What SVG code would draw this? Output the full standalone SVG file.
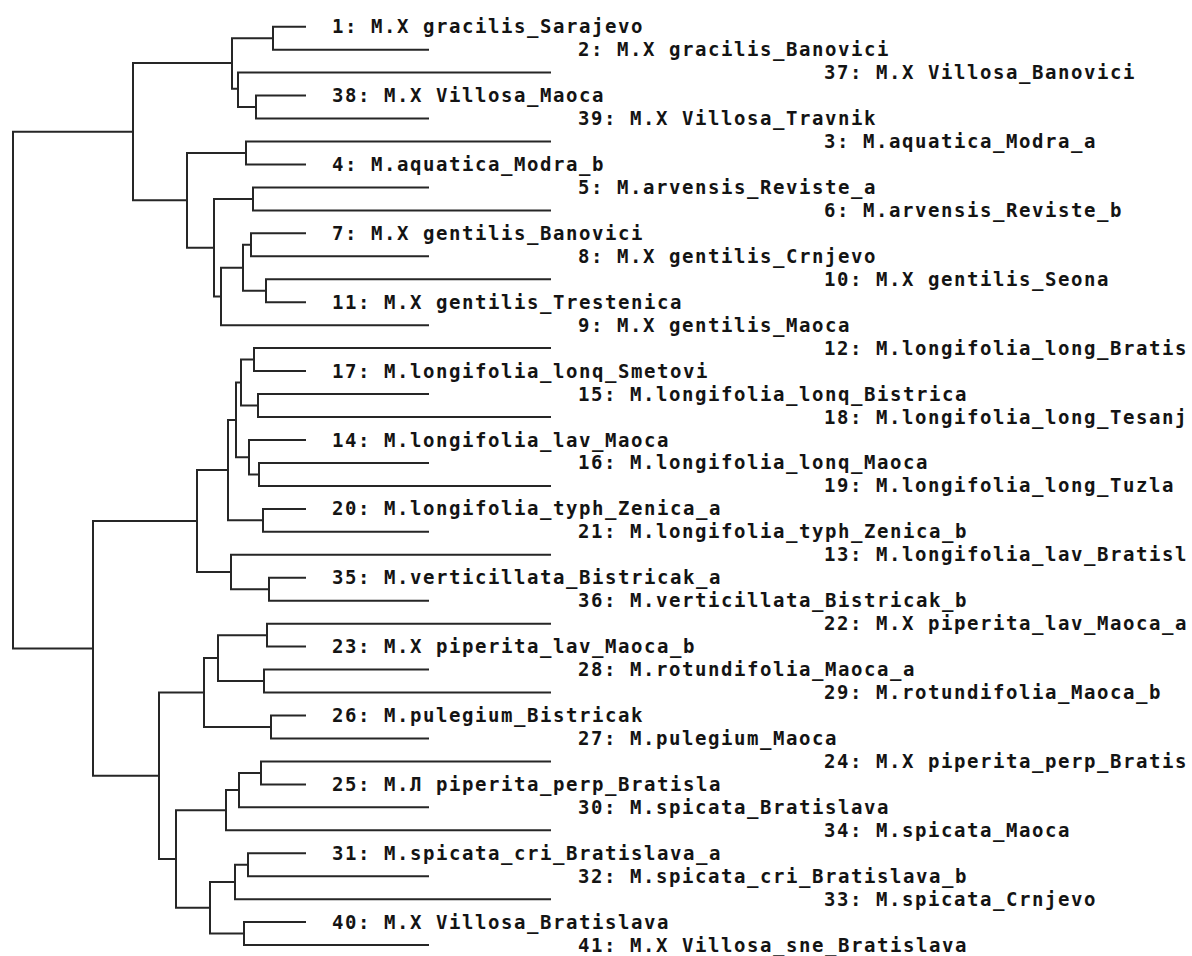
<svg xmlns="http://www.w3.org/2000/svg" width="1192" height="956" viewBox="0 0 1192 956">
<style>
.c path{fill:none;stroke:#262626;stroke-width:2;stroke-linecap:square}
.n text{font-family:"DejaVu Sans Mono","Liberation Mono",monospace;font-weight:bold;font-size:19px;letter-spacing:1.56px;fill:#141414}
</style>
<rect width="1192" height="956" fill="#ffffff"/>
<g id="connectors" class="c">
<path d="M305,26.7 H273 V49.7 H428"/>
<path d="M305,95.6 H256 V118.5 H428"/>
<path d="M550,72.6 H238 V107 H256"/>
<path d="M273,38.2 H232 V88.8 H238"/>
<path d="M550,141.5 H246 V164.5 H305"/>
<path d="M428,187.4 H253 V210.4 H550"/>
<path d="M305,233.3 H251 V256.3 H428"/>
<path d="M550,279.3 H266 V302.2 H305"/>
<path d="M251,244.8 H243 V290.8 H266"/>
<path d="M243,267.8 H221 V325.2 H428"/>
<path d="M253,198.9 H214 V296.5 H221"/>
<path d="M246,153 H187 V247.7 H214"/>
<path d="M232,63 H133 V200.3 H187"/>
<path d="M550,348.1 H254 V371.1 H305"/>
<path d="M428,394.1 H258 V417 H550"/>
<path d="M254,359.6 H241 V405.5 H258"/>
<path d="M428,462.9 H259 V485.9 H550"/>
<path d="M305,440 H249 V474.4 H259"/>
<path d="M241,382.6 H236 V457.2 H249"/>
<path d="M305,508.9 H263 V531.8 H428"/>
<path d="M236,419.9 H228 V520.3 H263"/>
<path d="M305,577.7 H269 V600.7 H428"/>
<path d="M550,554.8 H231 V589.2 H269"/>
<path d="M228,470.1 H197 V572 H231"/>
<path d="M550,623.7 H267 V646.6 H305"/>
<path d="M428,669.6 H264 V692.5 H550"/>
<path d="M267,635.2 H218 V681 H264"/>
<path d="M305,715.5 H271 V738.5 H428"/>
<path d="M218,658.1 H204 V727 H271"/>
<path d="M550,761.4 H261 V784.4 H305"/>
<path d="M261,772.9 H239 V807.3 H428"/>
<path d="M239,790.1 H226 V830.3 H550"/>
<path d="M305,853.3 H248 V876.2 H428"/>
<path d="M248,864.8 H235 V899.2 H550"/>
<path d="M305,922.1 H244 V945.1 H428"/>
<path d="M235,882 H210 V933.6 H244"/>
<path d="M226,810.2 H176 V907.8 H210"/>
<path d="M204,692.6 H159 V859 H176"/>
<path d="M197,521 H93 V775.8 H159"/>
<path d="M133,131.7 H13 V648.4 H93"/>
</g>
<g class="n">
<g id="leaf1"><text x="332" y="33.2">1: M.X gracilis_Sarajevo</text></g>
<g id="leaf2"><text x="578" y="56.2">2: M.X gracilis_Banovici</text></g>
<g id="leaf37"><text x="824" y="79.1">37: M.X Villosa_Banovici</text></g>
<g id="leaf38"><text x="332" y="102.1">38: M.X Villosa_Maoca</text></g>
<g id="leaf39"><text x="578" y="125">39: M.X Villosa_Travnik</text></g>
<g id="leaf3"><text x="824" y="148">3: M.aquatica_Modra_a</text></g>
<g id="leaf4"><text x="332" y="171">4: M.aquatica_Modra_b</text></g>
<g id="leaf5"><text x="578" y="193.9">5: M.arvensis_Reviste_a</text></g>
<g id="leaf6"><text x="824" y="216.9">6: M.arvensis_Reviste_b</text></g>
<g id="leaf7"><text x="332" y="239.8">7: M.X gentilis_Banovici</text></g>
<g id="leaf8"><text x="578" y="262.8">8: M.X gentilis_Crnjevo</text></g>
<g id="leaf10"><text x="824" y="285.8">10: M.X gentilis_Seona</text></g>
<g id="leaf11"><text x="332" y="308.7">11: M.X gentilis_Trestenica</text></g>
<g id="leaf9"><text x="578" y="331.7">9: M.X gentilis_Maoca</text></g>
<g id="leaf12"><text x="824" y="354.6">12: M.longifolia_long_Bratis</text></g>
<g id="leaf17"><text x="332" y="377.6">17: M.longifolia_lonq_Smetovi</text></g>
<g id="leaf15"><text x="578" y="400.6">15: M.longifolia_lonq_Bistrica</text></g>
<g id="leaf18"><text x="824" y="423.5">18: M.longifolia_long_Tesanj</text></g>
<g id="leaf14"><text x="332" y="446.5">14: M.longifolia_lav_Maoca</text></g>
<g id="leaf16"><text x="578" y="469.4">16: M.longifolia_lonq_Maoca</text></g>
<g id="leaf19"><text x="824" y="492.4">19: M.longifolia_long_Tuzla</text></g>
<g id="leaf20"><text x="332" y="515.4">20: M.longifolia_typh_Zenica_a</text></g>
<g id="leaf21"><text x="578" y="538.3">21: M.longifolia_typh_Zenica_b</text></g>
<g id="leaf13"><text x="824" y="561.3">13: M.longifolia_lav_Bratisl</text></g>
<g id="leaf35"><text x="332" y="584.2">35: M.verticillata_Bistricak_a</text></g>
<g id="leaf36"><text x="578" y="607.2">36: M.verticillata_Bistricak_b</text></g>
<g id="leaf22"><text x="824" y="630.2">22: M.X piperita_lav_Maoca_a</text></g>
<g id="leaf23"><text x="332" y="653.1">23: M.X piperita_lav_Maoca_b</text></g>
<g id="leaf28"><text x="578" y="676.1">28: M.rotundifolia_Maoca_a</text></g>
<g id="leaf29"><text x="824" y="699">29: M.rotundifolia_Maoca_b</text></g>
<g id="leaf26"><text x="332" y="722">26: M.pulegium_Bistricak</text></g>
<g id="leaf27"><text x="578" y="745">27: M.pulegium_Maoca</text></g>
<g id="leaf24"><text x="824" y="767.9">24: M.X piperita_perp_Bratis</text></g>
<g id="leaf25"><text x="332" y="790.9">25: M.Л piperita_perp_Bratisla</text></g>
<g id="leaf30"><text x="578" y="813.8">30: M.spicata_Bratislava</text></g>
<g id="leaf34"><text x="824" y="836.8">34: M.spicata_Maoca</text></g>
<g id="leaf31"><text x="332" y="859.8">31: M.spicata_cri_Bratislava_a</text></g>
<g id="leaf32"><text x="578" y="882.7">32: M.spicata_cri_Bratislava_b</text></g>
<g id="leaf33"><text x="824" y="905.7">33: M.spicata_Crnjevo</text></g>
<g id="leaf40"><text x="332" y="928.6">40: M.X Villosa_Bratislava</text></g>
<g id="leaf41"><text x="578" y="951.6">41: M.X Villosa_sne_Bratislava</text></g>
</g>
</svg>
